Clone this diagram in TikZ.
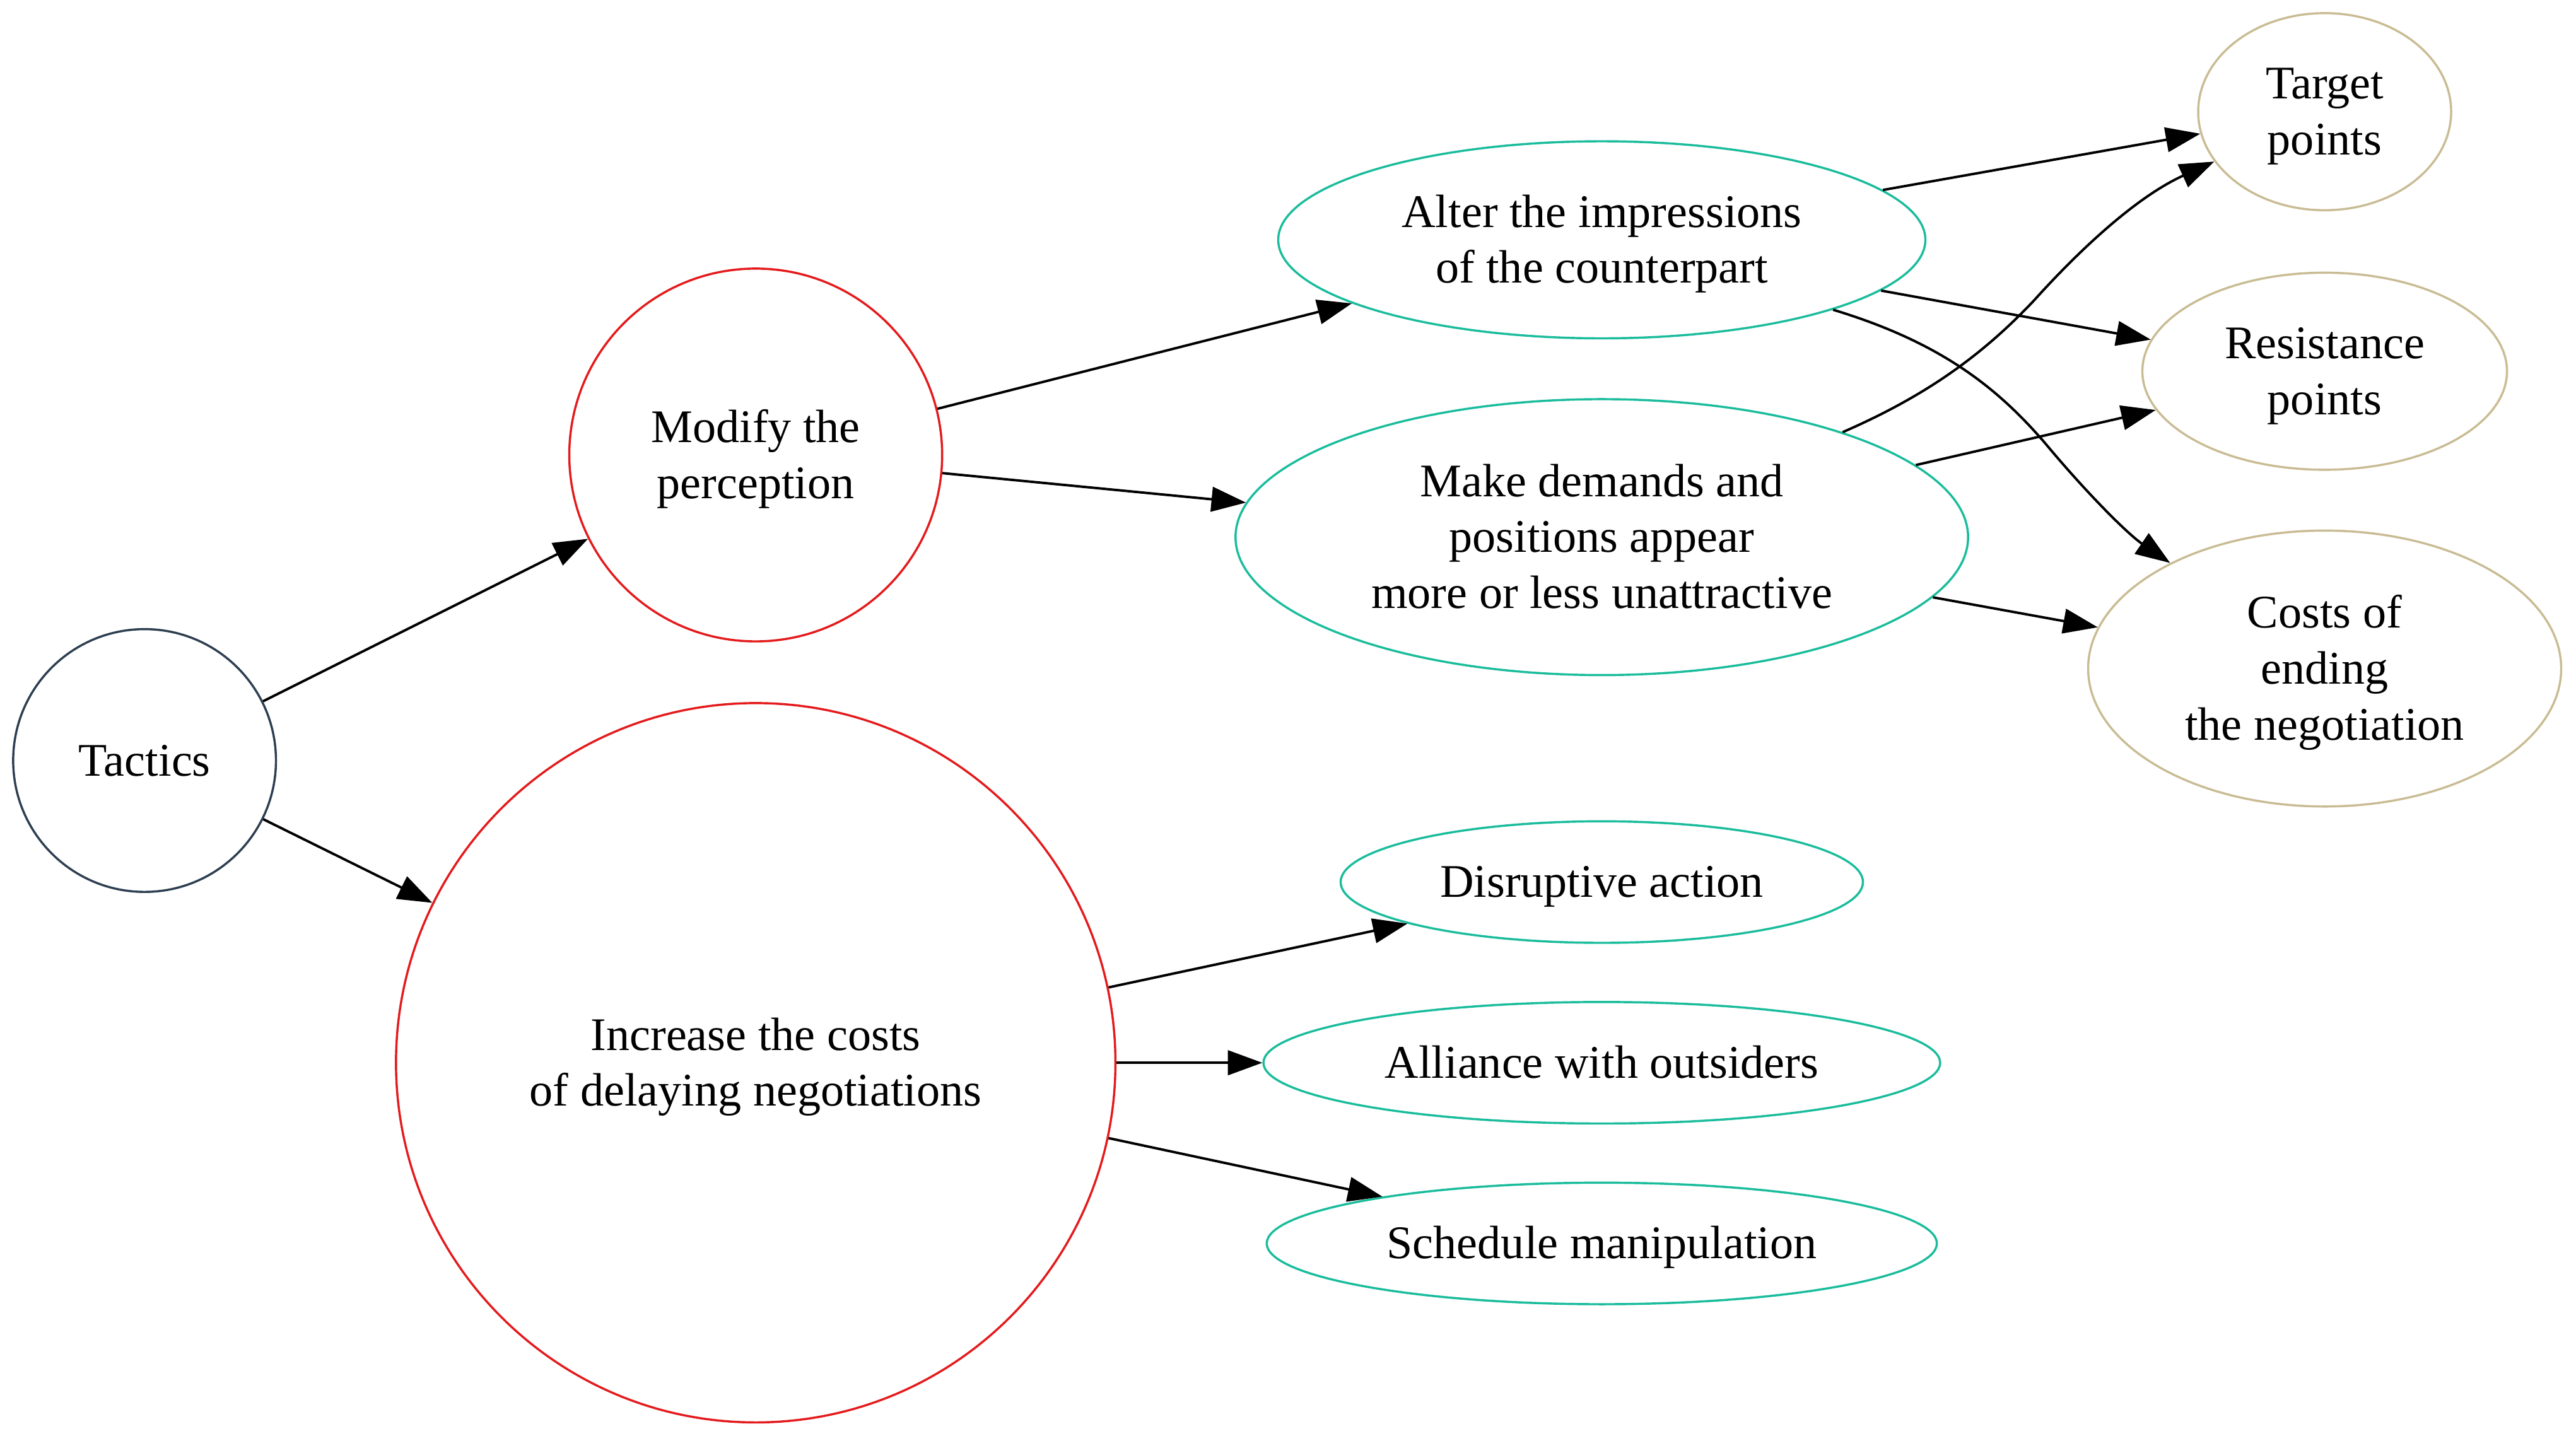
\documentclass[tikz,border=0pt]{standalone}
\usepackage{fontspec}
\setmainfont{Liberation Serif}
\usetikzlibrary{shapes.geometric,arrows.meta}
\definecolor{navy}{HTML}{2C3E50}
\definecolor{redc}{HTML}{E41A1C}
\definecolor{teal}{HTML}{1ABC9C}
\definecolor{tan}{HTML}{C9BC94}
\begin{document}
\begin{tikzpicture}[x=0.02cm,y=-0.02cm,
  every node/.style={font=\fontsize{16.2}{19.4}\selectfont, align=center, inner sep=0pt, line width=0.75pt,
    text depth=4pt},
  oneline/.style={text height=14.6pt},
  twolines/.style={text height=34pt},
  threelines/.style={text height=53.4pt},
  rootnode/.style={circle, draw=navy},
  midnode/.style={circle, draw=redc},
  tacnode/.style={ellipse, draw=teal},
  endnode/.style={ellipse, draw=tan},
  conn/.style={draw=black, line width=0.85pt, -{Triangle[length=0.42cm,width=0.3cm]}}
]
\useasboundingbox (0,0) rectangle (1568,874);
\node[rootnode, oneline, minimum size=3.2cm] (tac) at (88,463) {Tactics};
\node[midnode, twolines, minimum size=4.54cm] (mod) at (460,277) {Modify the\\perception};
\node[midnode, twolines, minimum size=8.76cm] (inc) at (460,647) {Increase the costs\\of delaying negotiations};
\node[tacnode, twolines, minimum width=7.88cm, minimum height=2.4cm] (alt) at (975,146) {Alter the impressions\\of the counterpart};
\node[tacnode, threelines, minimum width=8.92cm, minimum height=3.36cm] (mak) at (975,327) {Make demands and\\positions appear\\more or less unattractive};
\node[tacnode, oneline, minimum width=6.36cm, minimum height=1.48cm] (dis) at (975,537) {Disruptive action};
\node[tacnode, oneline, minimum width=8.24cm, minimum height=1.48cm] (all) at (975,647) {Alliance with outsiders};
\node[tacnode, oneline, minimum width=8.16cm, minimum height=1.48cm] (sch) at (975,757) {Schedule manipulation};
\node[endnode, twolines, minimum width=3.08cm, minimum height=2.4cm] (tgt) at (1415,68) {Target\\points};
\node[endnode, twolines, minimum width=4.44cm, minimum height=2.4cm] (res) at (1415,226) {Resistance\\points};
\node[endnode, threelines, minimum width=5.76cm, minimum height=3.36cm] (cst) at (1415,407) {Costs of\\ending\\the negotiation};

\path[conn] (tac) -- (mod);
\path[conn] (tac) -- (inc);
\path[conn] (mod) -- (alt);
\path[conn] (mod) -- (mak);
\path[conn] (inc) -- (dis);
\path[conn] (inc) -- (all);
\path[conn] (inc) -- (sch);
\path[conn] (alt) -- (tgt);
\path[conn] (alt) -- (res);
\path[conn] (mak) -- (res);
\path[conn] (mak) -- (cst);
\path[conn] (alt) .. controls (1180,208) and (1215,235) .. (1245,270) .. controls (1270,300) and (1295,325) .. (cst);
\path[conn] (mak) .. controls (1170,242) and (1205,218) .. (1238,183) .. controls (1265,153) and (1300,120) .. (tgt);
\end{tikzpicture}
\end{document}
